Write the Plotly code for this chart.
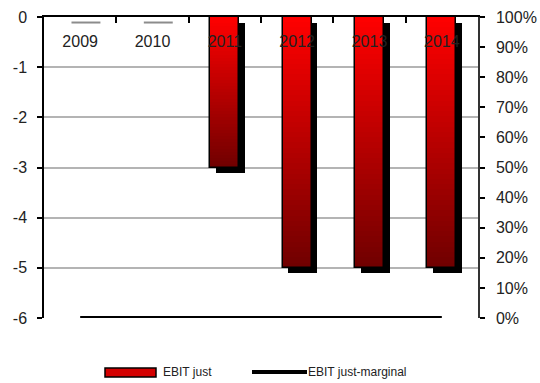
import numpy as np
import plotly.graph_objects as go

# Data
years = ["2009", "2010", "2011", "2012", "2013", "2014"]
ebit_just = [0, 0, -3, -5, -5, -5]
ebit_just_marginal = [0, 0, 0, 0, 0, 0]  # share, 0..1
left_ticks = [0, -1, -2, -3, -4, -5, -6]

pos = np.arange(len(years))
BAR_W = 0.4
SH_DX = 0.08      # shadow offset along x (category units)
SH_DY = -0.11     # shadow offset along y (axis units)
N_SEG = 48        # gradient slices per bar

top_rgb = np.array([255, 0, 0])
bot_rgb = np.array([112, 0, 0])

fig = go.Figure()

# Drop shadow behind bars
fig.add_trace(go.Bar(
    x=pos + SH_DX, y=ebit_just, base=[SH_DY] * len(years), width=BAR_W,
    marker=dict(color="black", line=dict(width=0)),
    showlegend=False, hoverinfo="skip"))

# Flat shadows of zero-valued bars show as thin grey strokes
for p, v in zip(pos, ebit_just):
    if v == 0:
        fig.add_trace(go.Scatter(
            x=[p - BAR_W / 2 + SH_DX, p + BAR_W / 2 + SH_DX], y=[SH_DY, SH_DY],
            mode="lines", line=dict(color="#8c8c8c", width=2),
            showlegend=False, hoverinfo="skip"))

# Vertical red gradient built from stacked slices
vals = np.array(ebit_just, dtype=float)
for k in range(N_SEG):
    t = (k + 0.5) / N_SEG
    c = top_rgb + (bot_rgb - top_rgb) * t
    fig.add_trace(go.Bar(
        x=pos, y=vals / N_SEG, base=vals * k / N_SEG, width=BAR_W,
        marker=dict(color=f"rgb({c[0]:.0f},{c[1]:.0f},{c[2]:.0f})", line=dict(width=0)),
        showlegend=False, hoverinfo="skip"))

# Bar outlines
fig.add_trace(go.Bar(
    x=pos, y=ebit_just, width=BAR_W,
    marker=dict(color="rgba(0,0,0,0)", line=dict(color="black", width=1.5)),
    showlegend=False, hoverinfo="skip"))

# Share line on the right axis
fig.add_trace(go.Scatter(
    x=pos, y=ebit_just_marginal, yaxis="y2", name="EBIT just-marginal",
    mode="lines", line=dict(color="black", width=4),
    showlegend=False, hoverinfo="skip"))

font = dict(family="Liberation Sans, Arial, sans-serif", size=16, color="#222")

fig.update_layout(
    width=540, height=383,
    margin=dict(l=44, r=62, t=17, b=65, autoexpand=False),
    paper_bgcolor="white", plot_bgcolor="white",
    barmode="overlay", bargap=0,
    font=font,
    showlegend=False,
    # top frame line with inward ticks between categories
    xaxis=dict(
        range=[-0.5, len(years) - 0.5], side="top",
        tickvals=pos[:-1] + 0.5, showticklabels=False,
        ticks="inside", ticklen=6, tickwidth=1.5, tickcolor="black",
        showline=True, linecolor="black", linewidth=1.5,
        showgrid=False, zeroline=False, fixedrange=True),
    # year labels sitting just under the top frame
    xaxis3=dict(
        overlaying="x", matches="x", anchor="free", position=0.965, side="bottom",
        tickvals=pos, ticktext=years, ticks="", ticklabelstandoff=2,
        showline=False, showgrid=False, zeroline=False),
    yaxis=dict(
        range=[-6, 0], tickvals=left_ticks, ticktext=[str(v) for v in left_ticks],
        ticks="outside", ticklen=5, tickwidth=1.5, ticklabelstandoff=7,
        tickcolor="black", showline=True, linecolor="black", linewidth=1.5,
        showgrid=True, gridcolor="#b4b4b4", gridwidth=1.5, zeroline=False),
    yaxis2=dict(
        range=[0, 1], dtick=0.1, tickformat=".0%", overlaying="y", side="right",
        ticks="outside", ticklen=5, tickwidth=1.5, tickcolor="black", ticklabelstandoff=8,
        showline=True, linecolor="#333", linewidth=1.5,
        showgrid=False, zeroline=False),
)

# Attach a dummy trace so the label axis is rendered
fig.add_trace(go.Scatter(x=[None], y=[None], xaxis="x3", showlegend=False, hoverinfo="skip"))

# Legend drawn as keys + text below the plot
L, R, T, B = 44, 478, 17, 318
def px(xp):
    return (xp - L) / (R - L)
def py(yp):
    return (B - yp) / (B - T)

leg_font = dict(family="Liberation Sans, Arial, sans-serif", size=12, color="#222")
fig.add_shape(type="rect", xref="paper", yref="paper",
              x0=px(105), x1=px(156), y0=py(377), y1=py(368),
              fillcolor="#d40000", line=dict(color="black", width=1.5))
fig.add_annotation(xref="paper", yref="paper", x=px(161), y=py(372),
                   text="EBIT just", showarrow=False, xanchor="left", yanchor="middle",
                   font=leg_font)
fig.add_shape(type="line", xref="paper", yref="paper",
              x0=px(252), x1=px(307), y0=py(372), y1=py(372),
              line=dict(color="black", width=4))
fig.add_annotation(xref="paper", yref="paper", x=px(306), y=py(372),
                   text="EBIT just-marginal", showarrow=False, xanchor="left", yanchor="middle",
                   font=leg_font)

fig.write_html("out.html")
